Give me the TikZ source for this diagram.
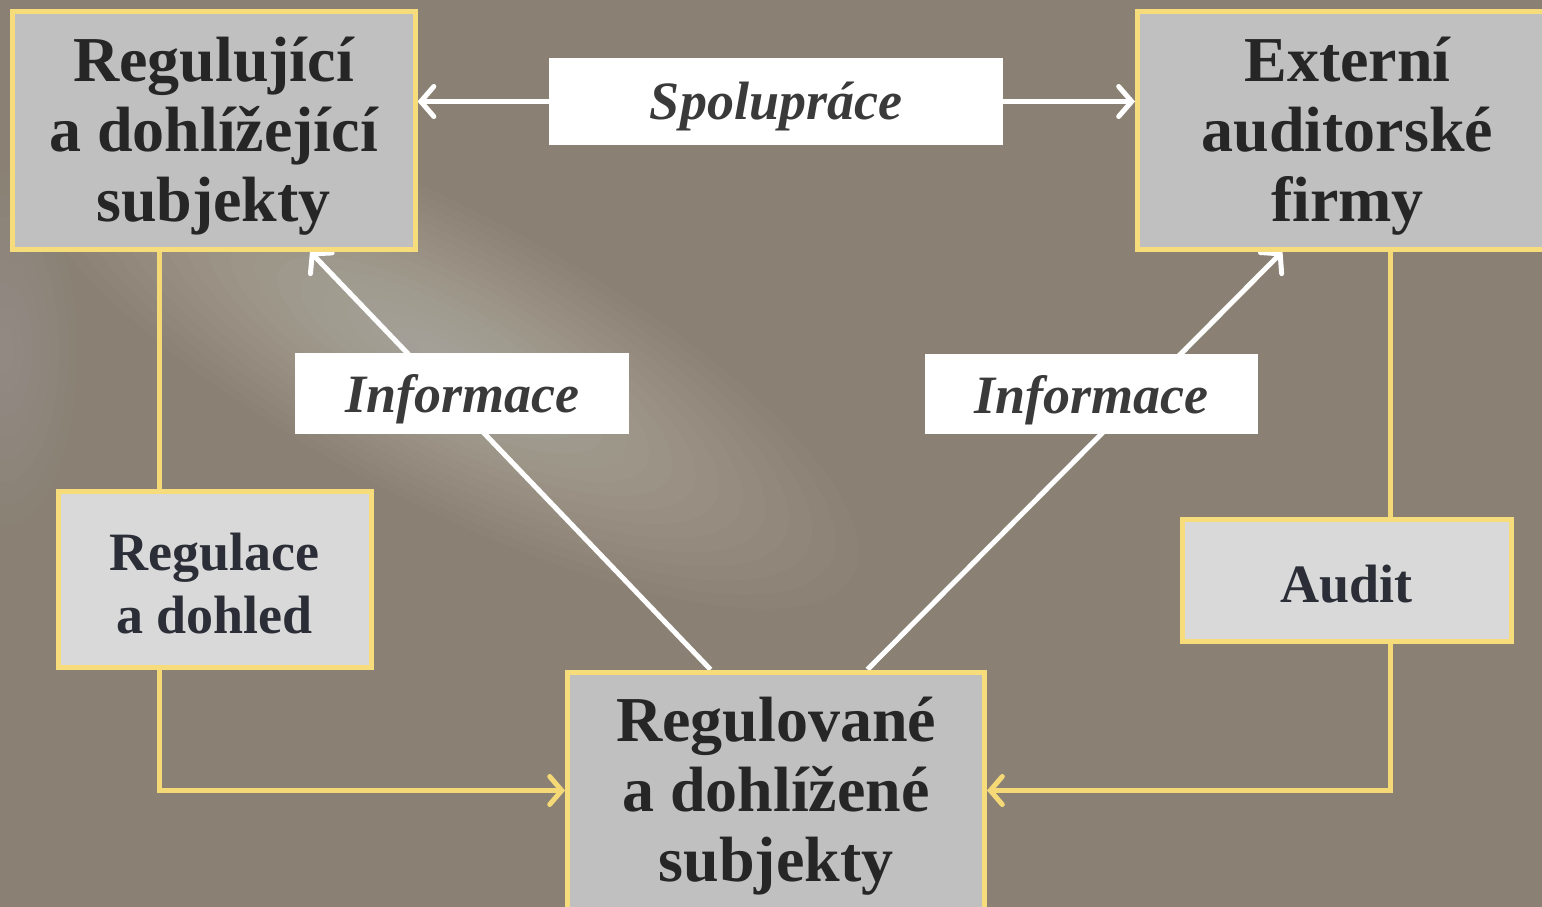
\documentclass[tikz,border=0pt]{standalone}
\usepackage{fontspec}
\setmainfont{Liberation Serif}
\usetikzlibrary{arrows.meta,calc}
\definecolor{bgc}{HTML}{8A8174}
\definecolor{bigfill}{HTML}{C0C0C0}
\definecolor{smallfill}{HTML}{D9D9D9}
\definecolor{bordery}{HTML}{F7DC7C}
\definecolor{liney}{HTML}{F5D977}
\definecolor{txtdark}{HTML}{262626}
\definecolor{txtsmall}{HTML}{2B2E36}
\definecolor{txtital}{HTML}{3A3A3A}
\pgfdeclarelayer{back}
\pgfdeclarelayer{mid}
\pgfsetlayers{back,mid,main}
\tikzset{
  bigbox/.style={draw=bordery, line width=5pt, fill=bigfill, inner sep=0pt},
  smallbox/.style={draw=bordery, line width=5pt, fill=smallfill, inner sep=0pt},
  labelbox/.style={fill=white, inner sep=0pt},
  bigtext/.style={text=txtdark, align=center, inner sep=0pt,
    font=\bfseries\fontsize{64}{70}\selectfont},
  smalltext/.style={text=txtsmall, align=center, inner sep=0pt,
    font=\bfseries\fontsize{54}{63}\selectfont},
  italtext/.style={text=txtital, align=center, inner sep=0pt,
    font=\bfseries\itshape\fontsize{54}{60}\selectfont},
  wline/.style={draw=white, line width=5pt},
  warrow/.style={wline, -{Straight Barb[length=13pt,width=30pt,line cap=round]}},
  yline/.style={draw=liney, line width=5pt},
  yarrow/.style={yline, -{Straight Barb[length=12pt,width=28pt,line cap=round]}}
}
\begin{document}
\begin{tikzpicture}[x=1pt,y=-1pt]
\path[use as bounding box, clip] (0,0) rectangle (1542,907);
\begin{pgfonlayer}{back}
  \fill[bgc] (0,0) rectangle (1542,907);
  \foreach \k in {1,...,18}{
    \fill[white, fill opacity=0.018, rotate around={-28:(440,355)}]
      (440,355) ellipse ({26*\k} and {8*\k});
  }
  \foreach \k in {1,...,8}{
    \fill[white, fill opacity=0.016]
      (5,350) ellipse ({9*\k} and {22*\k});
  }
\end{pgfonlayer}

% main boxes
\node[bigbox, minimum width=403pt, minimum height=237pt] (A) at (213.5,130.5) {};
\node[bigbox, minimum width=420pt, minimum height=237pt] (B) at (1347.5,130.5) {};
\node[bigbox, minimum width=417pt, minimum height=237pt] (C) at (776,790.5) {};
\node[smallbox, minimum width=313pt, minimum height=176pt] (R) at (214.5,579) {};
\node[smallbox, minimum width=329pt, minimum height=122pt] (D) at (1346.5,580) {};
\node[bigtext] (At) at ([yshift=-6pt]A.center) {Regulující\\a dohlížející\\subjekty};
\node[bigtext] (Bt) at ([yshift=-6pt]B.center) {Externí\\auditorské\\firmy};
\node[bigtext] (Ct) at ([yshift=-6pt]C.center) {Regulované\\a dohlížené\\subjekty};
\node[smalltext] (Rt) at ([yshift=-5pt]R.center) {Regulace\\a dohled};
\node[smalltext] (Dt) at ([yshift=-4pt]D.center) {Audit};

% labels
\node[labelbox, minimum width=454pt, minimum height=87pt] (S) at (776,101.5) {};
\node[labelbox, minimum width=334pt, minimum height=81pt] (IL) at (462,393.5) {};
\node[labelbox, minimum width=333pt, minimum height=80pt] (IR) at (1091.5,394) {};
\node[italtext] (St) at ([yshift=-5pt]S.center) {Spolupráce};
\node[italtext] (ILt) at ([yshift=-6pt]IL.center) {Informace};
\node[italtext] (IRt) at ([yshift=-6pt]IR.center) {Informace};

\coordinate (rtop) at ([xshift=104pt]R.north west);
\coordinate (rbot) at ([xshift=104pt]R.south west);
\coordinate (dtop) at ([xshift=211pt]D.north west);
\coordinate (dbot) at ([xshift=211pt]D.south west);

\begin{pgfonlayer}{mid}
  \draw[warrow] (S.west) -- (S.west -| A.east);
  \draw[warrow] (S.east) -- (S.east -| B.west);
  \draw[warrow] ([xshift=145.5pt]C.north west) -- ([xshift=300.5pt]A.south west);
  \draw[warrow] ([xshift=302.5pt]C.north west) -- ([xshift=147.5pt]B.south west);
  \draw[yline] (A.south -| rtop) -- (rtop);
  \draw[yarrow] (rbot) |- (C.west);
  \draw[yline] (B.south -| dtop) -- (dtop);
  \draw[yarrow] (dbot) |- (C.east);
\end{pgfonlayer}
\end{tikzpicture}
\end{document}
